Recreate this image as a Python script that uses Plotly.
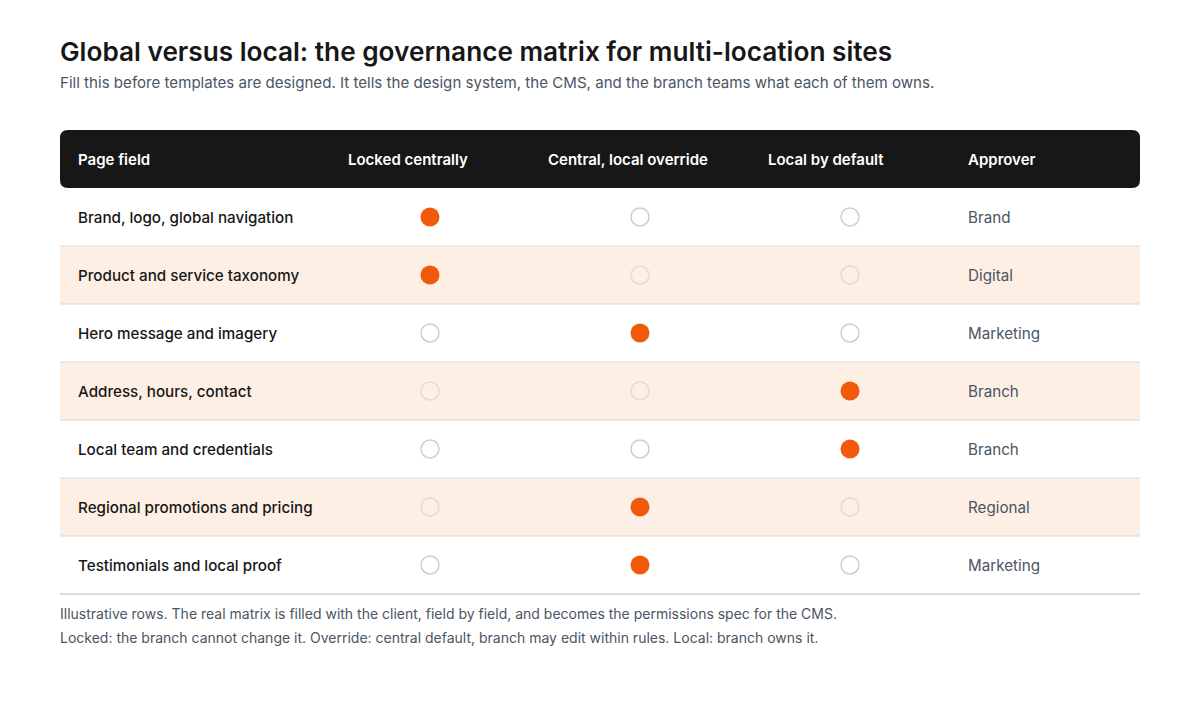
import plotly.graph_objects as go

fields = ["Brand, logo, global navigation", "Product and service taxonomy", "Hero message and imagery",
          "Address, hours, contact", "Local team and credentials", "Regional promotions and pricing",
          "Testimonials and local proof"]
columns = ["Locked centrally", "Central, local override", "Local by default"]
assignment = [0, 0, 1, 2, 2, 1, 1]  # index of filled column
approvers = ["Brand", "Digital", "Marketing", "Branch", "Branch", "Regional", "Marketing"]

W, H = 1200, 720
OFF = 8  # page body margin compensation
L, R = 60, 1140
HEAD_TOP, HEAD_BOT = 130, 188
ROW_H = 58
col_x = [430, 640, 850]
head_x = [78, 348, 548, 768, 968]
FONT = "Inter, sans-serif"
ORANGE = "#f05a0a"
PAD = 2  # annotation internal padding

fig = go.Figure()
shapes = []
r = 8
path = (f"M{L+r},{HEAD_TOP} L{R-r},{HEAD_TOP} Q{R},{HEAD_TOP} {R},{HEAD_TOP+r} L{R},{HEAD_BOT-r} "
        f"Q{R},{HEAD_BOT} {R-r},{HEAD_BOT} L{L+r},{HEAD_BOT} Q{L},{HEAD_BOT} {L},{HEAD_BOT-r} "
        f"L{L},{HEAD_TOP+r} Q{L},{HEAD_TOP} {L+r},{HEAD_TOP} Z")
shapes.append(dict(type="path", path=path, fillcolor="#171717", line=dict(width=0), layer="below"))
for i in range(len(fields)):
    y0 = HEAD_BOT + i * ROW_H
    if i % 2 == 1:
        shapes.append(dict(type="rect", x0=L, x1=R, y0=y0, y1=y0 + ROW_H, fillcolor="#fdefe4",
                           line=dict(width=0), layer="below"))
    last = i == len(fields) - 1
    shapes.append(dict(type="line", x0=L, x1=R, y0=y0 + ROW_H, y1=y0 + ROW_H,
                       line=dict(color="#b8b8b8" if last else "#d9d9d9", width=1.2 if last else 1)))

annotations = []
def txt(x, y, s, size, color, weight=400):
    annotations.append(dict(x=x - PAD, y=y, text=s, showarrow=False, xanchor="left", yanchor="middle",
                            font=dict(family=FONT, size=size, color=color, weight=weight)))

txt(60, 51, "Global versus local: the governance matrix for multi-location sites", 26.2, "#171717", 600)
txt(60, 82, "Fill this before templates are designed. It tells the design system, the CMS, and the branch teams what each of them owns.", 15.1, "#4a5565")
headers = ["Page field"] + columns + ["Approver"]
for x, h in zip(head_x, headers):
    txt(x, 159, h, 15, "#ffffff", 600)

fx, fy, ex, ey, ecol = [], [], [], [], []
for i, (f, a, ap) in enumerate(zip(fields, assignment, approvers)):
    yc = HEAD_BOT + i * ROW_H + ROW_H / 2
    txt(78, yc, f, 15.2, "#171717", 500)
    txt(968, yc, ap, 15.2, "#4a5565")
    for j, cx in enumerate(col_x):
        if j == a:
            fx.append(cx); fy.append(yc)
        else:
            ex.append(cx); ey.append(yc); ecol.append("#e6dbd2" if i % 2 else "#cfcfcf")

fig.add_trace(go.Scatter(x=fx, y=fy, mode="markers", hoverinfo="skip",
                         marker=dict(size=19, color=ORANGE, line=dict(width=0))))
fig.add_trace(go.Scatter(x=ex, y=ey, mode="markers", hoverinfo="skip",
                         marker=dict(size=18, color="rgba(0,0,0,0)", line=dict(width=1.5, color=ecol))))

txt(60, 613, "Illustrative rows. The real matrix is filled with the client, field by field, and becomes the permissions spec for the CMS.", 14, "#4a5565")
txt(60, 637, "Locked: the branch cannot change it. Override: central default, branch may edit within rules. Local: branch owns it.", 14, "#4a5565")

fig.update_layout(width=W, height=H, margin=dict(l=0, r=0, t=0, b=0), showlegend=False,
                  paper_bgcolor="white", plot_bgcolor="white", shapes=shapes, annotations=annotations,
                  xaxis=dict(range=[OFF, W + OFF], visible=False, fixedrange=True),
                  yaxis=dict(range=[H + OFF, OFF], visible=False, fixedrange=True))
fig.write_html("out.html", config={"displayModeBar": False})
